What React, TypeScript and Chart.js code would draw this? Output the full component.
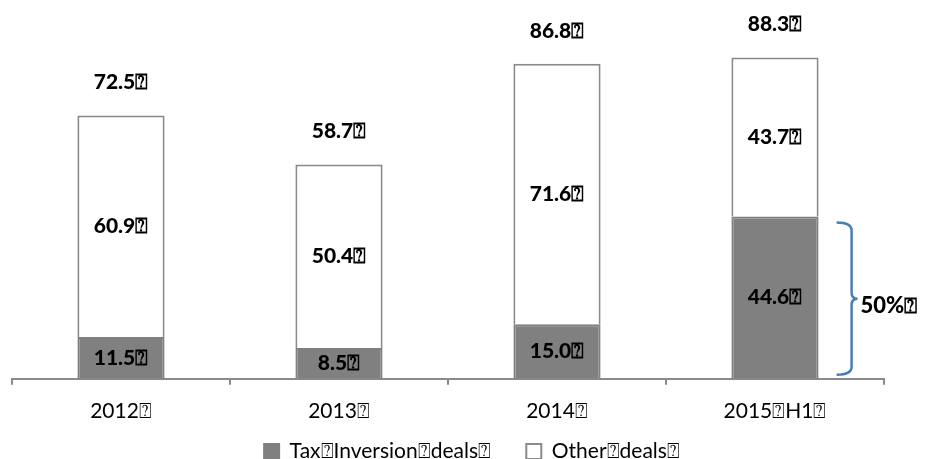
import React, { useEffect, useRef } from "react";
import { Chart, registerables } from "chart.js";

Chart.register(...registerables);

const Q = "\u2370";
const categories = ["2012" + Q, "2013" + Q, "2014" + Q, "2015" + Q + "H1" + Q];
const taxInversion = [11.5, 8.5, 15.0, 44.6];
const otherDeals = [60.9, 50.4, 71.6, 43.7];
const totals = [72.5, 58.7, 86.8, 88.3];
const seriesNames = ["Tax" + Q + "Inversion" + Q + "deals" + Q, "Other" + Q + "deals" + Q];
const shareLabel = "50%" + Q;

const FONT = "Lato, 'Open Sans', sans-serif";

const legendShift = {
  id: "legendShift",
  afterLayout(chart: any) {
    const lg = chart.legend;
    if (lg) {
      lg.left += 24;
      lg.right += 24;
    }
  },
};

const labelsPlugin = {
  id: "valueLabels",
  afterDatasetsDraw(chart: any) {
    const ctx = chart.ctx;
    ctx.save();
    ctx.font = `900 21px ${FONT}`;
    ctx.fillStyle = "#000";
    ctx.textAlign = "center";
    ctx.textBaseline = "middle";
    [0, 1].forEach((di) => {
      const meta = chart.getDatasetMeta(di);
      const data = chart.data.datasets[di].data as number[];
      meta.data.forEach((el: any, i: number) => {
        const mid = (el.y + el.base) / 2;
        ctx.fillText(data[i].toFixed(1) + Q, el.x, mid);
      });
    });
    const topMeta = chart.getDatasetMeta(1);
    topMeta.data.forEach((el: any, i: number) => {
      ctx.fillText(totals[i].toFixed(1) + Q, el.x, el.y - 33);
    });

    // brace next to last tax segment
    const last = chart.getDatasetMeta(0).data[3] as any;
    const right = last.x + last.width / 2;
    const top = last.y + 6;
    const bottom = last.base - 4;
    const mid = (top + bottom) / 2;
    const x0 = right + 18;
    const x1 = x0 + 15;
    const x2 = x1 + 6;
    ctx.strokeStyle = "#4a7ebb";
    ctx.lineWidth = 2.5;
    ctx.beginPath();
    ctx.moveTo(x0, top);
    ctx.quadraticCurveTo(x1, top, x1, top + 8);
    ctx.lineTo(x1, mid - 6);
    ctx.quadraticCurveTo(x1, mid, x2, mid);
    ctx.quadraticCurveTo(x1, mid, x1, mid + 6);
    ctx.lineTo(x1, bottom - 8);
    ctx.quadraticCurveTo(x1, bottom, x0, bottom);
    ctx.stroke();
    ctx.font = `900 22px ${FONT}`;
    ctx.textAlign = "left";
    ctx.fillText(shareLabel, x2 + 3, mid + 7);
    ctx.restore();
  },
};

export default function App() {
  const ref = useRef<HTMLCanvasElement | null>(null);
  useEffect(() => {
    document.body.style.margin = "0";
    const defaultGen = (Chart as any).defaults.plugins.legend.labels.generateLabels;
    const chart = new Chart(ref.current as HTMLCanvasElement, {
      type: "bar",
      data: {
        labels: categories,
        datasets: [
          {
            label: seriesNames[0],
            data: taxInversion,
            backgroundColor: "#808080",
            borderColor: "#808080",
            borderWidth: 2,
            barPercentage: 0.8,
            categoryPercentage: 0.5,
          },
          {
            label: seriesNames[1],
            data: otherDeals,
            backgroundColor: "#ffffff",
            borderColor: "#8a8a8a",
            borderWidth: 2,
            barPercentage: 0.8,
            categoryPercentage: 0.5,
          },
        ],
      },
      options: {
        animation: false,
        responsive: false,
        layout: { padding: { left: 12, right: 64, top: 15, bottom: -13 } },
        scales: {
          x: {
            stacked: true,
            grid: {
              offset: true,
              drawOnChartArea: false,
              drawTicks: true,
              tickLength: 6,
              color: "#8a8a8a",
              lineWidth: 2,
            },
            border: { color: "#8a8a8a", width: 2 },
            ticks: {
              color: "#000",
              font: { family: FONT, size: 21 },
              padding: 14,
            },
          },
          y: {
            stacked: true,
            display: false,
            min: 0,
            max: 100,
          },
        },
        plugins: {
          legend: {
            position: "bottom",
            labels: {
              color: "#000",
              font: { family: FONT, size: 21 },
              boxWidth: 15,
              boxHeight: 15,
              padding: 3,
              useBorderRadius: false,
              generateLabels: (c: any) => {
                const items = defaultGen(c);
                items.forEach((it: any, i: number) => {
                  if (i < items.length - 1) it.text = it.text + "      ";
                });
                return items;
              },
            },
          },
          tooltip: { enabled: false },
        },
      },
      plugins: [labelsPlugin, legendShift],
    });
    return () => chart.destroy();
  }, []);
  return (
    <div style={{ width: 948, height: 459 }}>
      <canvas ref={ref} width={948} height={459} style={{ display: "block" }} />
    </div>
  );
}
